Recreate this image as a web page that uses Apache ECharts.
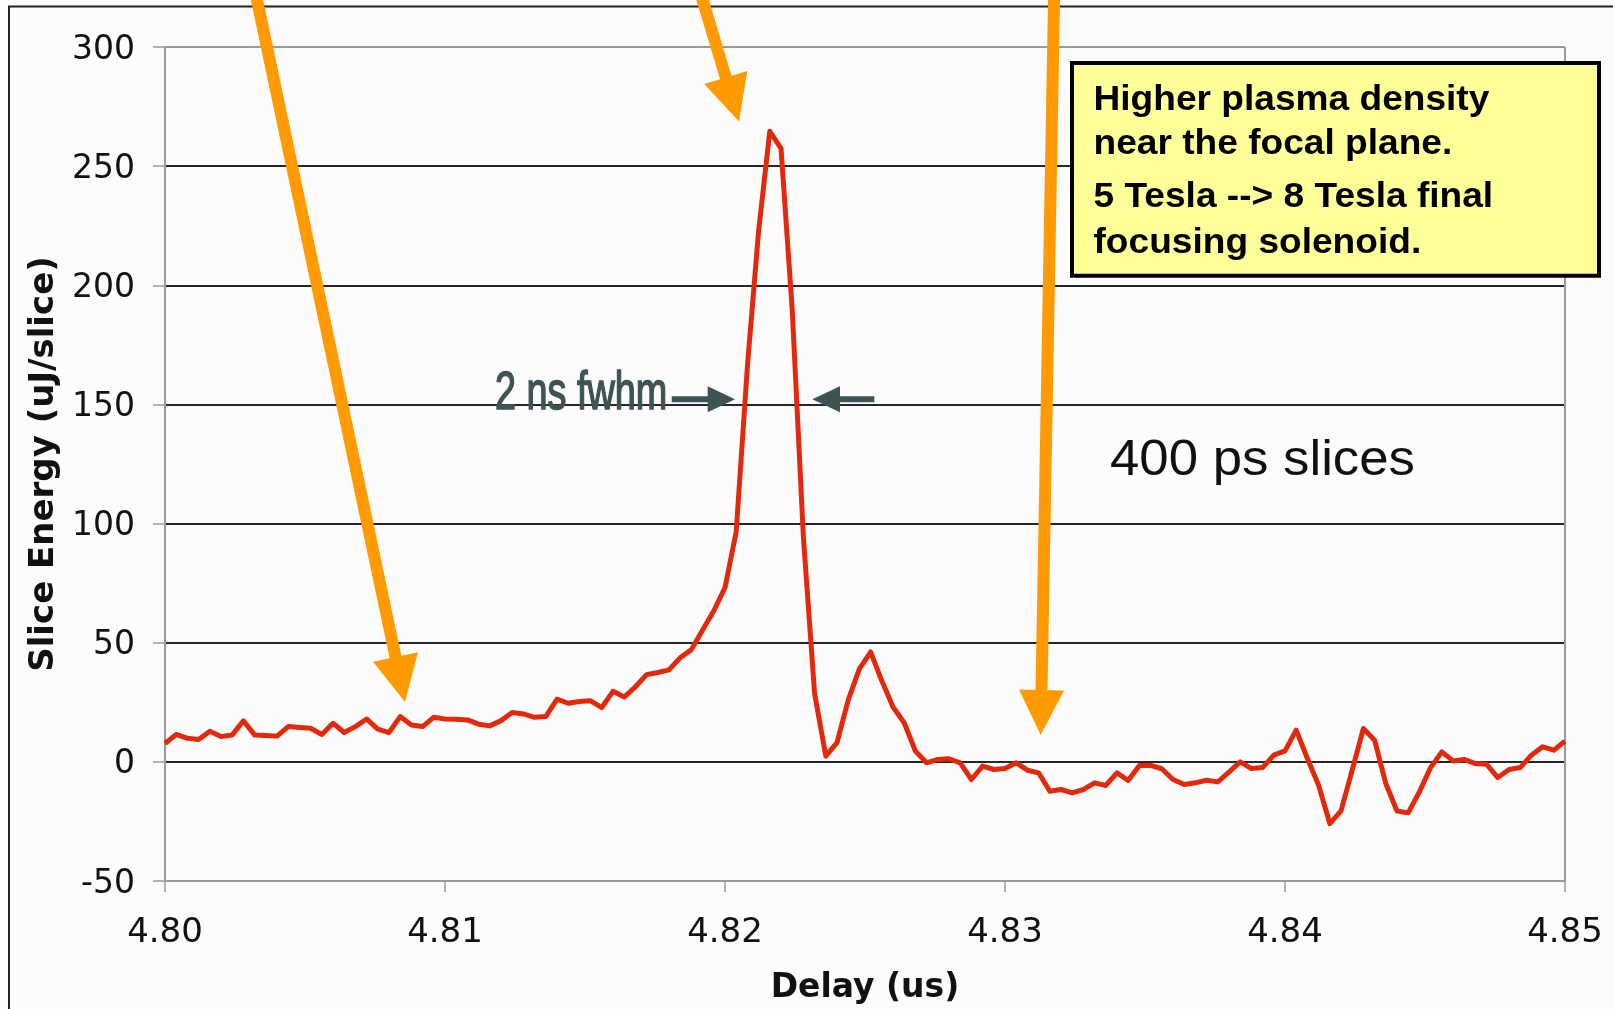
<!DOCTYPE html>
<html>
<head>
<meta charset="utf-8">
<script src="https://cdn.jsdelivr.net/npm/echarts@6/dist/echarts.min.js"></script>
<style>
html,body{margin:0;padding:0;background:#fcfcfc;}
#chart{width:1613px;height:1009px;}
</style>
</head>
<body>
<div id="chart"></div>
<script>
// ---- data ----
const sliceStartUs = 4.80;      // first slice delay (us)
const sliceWidthUs = 0.0004;    // 400 ps slices
const sliceEnergy = [
  7.7, 11.5, 9.9, 9.4, 12.8, 10.6, 11.3, 17.2, 11.3, 11.1,
  10.8, 14.8, 14.4, 14.1, 11.5, 16.2, 12.3, 14.8, 18.0, 13.7,
  12.3, 19.0, 15.5, 14.8, 18.7, 18.0, 17.9, 17.6, 15.8, 15.1,
  17.3, 20.7, 20.1, 18.7, 19.0, 26.3, 24.6, 25.3, 25.6, 22.8,
  29.6, 27.2, 31.5, 36.6, 37.5, 38.6, 43.7, 47.1, 55.3, 63.4,
  73.1, 96.6, 166, 222.8, 264.6, 257.5, 190, 94.3, 28.7, 2.4,
  8.1, 25.9, 39.0, 46.1, 34.0, 23.0, 16.4, 4.5, -0.4, 1.0,
  1.3, -0.4, -7.4, -1.8, -3.2, -2.8, -0.4, -3.5, -4.6, -12.3,
  -11.6, -13.0, -11.6, -8.8, -9.9, -4.6, -7.8, -1.5, -1.5, -2.9,
  -7.4, -9.5, -8.8, -7.7, -8.4, -4.3, 0.0, -2.8, -2.4, 2.8,
  4.6, 13.3, 1.4, -9.8, -25.9, -20.6, -3.5, 14.0, 9.1, -9.1,
  -20.6, -21.4, -12.6, -2.4, 4.2, 0.4, 1.0, -0.7, -1.0, -6.6,
  -3.2, -2.4, 2.8, 6.3, 4.9, 8.7
];
const xMin = 4.80, xMax = 4.85, xStep = 0.01;
const yMin = -50, yMax = 300, yStep = 50;
const xName = 'Delay (us)';
const yName = 'Slice Energy (uJ/slice)';
const noteLines = ['Higher plasma density', 'near the focal plane.', '5 Tesla --> 8 Tesla final', 'focusing solenoid.'];
const fwhmText = '2 ns fwhm';
const sliceText = '400 ps slices';

const delays = sliceEnergy.map((_, i) => +(sliceStartUs + i * sliceWidthUs).toFixed(4));
const seriesData = delays.map((d, i) => [d, sliceEnergy[i]]);

const chart = echarts.init(document.getElementById('chart'), null, {renderer: 'canvas'});

const ORANGE = '#FF9A00';
const SLATE = '#3E5454';
const GRAY = '#9a9a9a';
const DARK = '#262626';
const clear = 'rgba(0,0,0,0)';

function arrow(start, tip, headLen, halfW, shaftW, color) {
  const dx = tip[0] - start[0], dy = tip[1] - start[1];
  const L = Math.hypot(dx, dy), ux = dx / L, uy = dy / L;
  const bx = tip[0] - ux * headLen, by = tip[1] - uy * headLen;
  const px = -uy, py = ux;
  return [
    {type: 'line', z: 100, shape: {x1: start[0], y1: start[1], x2: bx + ux * 2, y2: by + uy * 2},
     style: {stroke: color, lineWidth: shaftW, lineCap: 'butt'}},
    {type: 'polygon', z: 101, shape: {points: [[tip[0], tip[1]], [bx + px * halfW, by + py * halfW], [bx - px * halfW, by - py * halfW]]},
     style: {fill: color}}
  ];
}

function txt(x, y, text, font, color, sx, strokeW) {
  const st = {x: 0, y: 0, text: text, font: font, fill: color,
      textAlign: 'left', align: 'left', textVerticalAlign: 'middle', verticalAlign: 'middle'};
  if (strokeW) { st.stroke = color; st.lineWidth = strokeW; }
  return {type: 'text', z: 110, x: x, y: y, scaleX: sx || 1, originX: 0, originY: 0, style: st};
}

const graphics = [].concat(
  [{type: 'rect', z: 90, shape: {x: 9, y: 6.5, width: 1800, height: 1200},
    style: {fill: null, stroke: '#222', lineWidth: 2}}],
  arrow([254.9, -10], [405, 702], 46, 23, 12, ORANGE),
  arrow([699.6, -10], [739, 121.5], 46, 22.5, 12, ORANGE),
  arrow([1054.2, -10], [1040.7, 735], 45, 22.5, 12, ORANGE),
  // fwhm arrows
  [{type: 'line', z: 100, shape: {x1: 671.7, y1: 399.3, x2: 710, y2: 399.3}, style: {stroke: SLATE, lineWidth: 6}},
   {type: 'polygon', z: 101, shape: {points: [[735, 399.3], [707.7, 386.3], [707.7, 412.3]]}, style: {fill: SLATE}},
   {type: 'line', z: 100, shape: {x1: 838, y1: 399.3, x2: 874.3, y2: 399.3}, style: {stroke: SLATE, lineWidth: 6}},
   {type: 'polygon', z: 101, shape: {points: [[812.3, 399.3], [840, 386.3], [840, 412.3]]}, style: {fill: SLATE}},
   txt(495, 394.5, fwhmText, '54px "Liberation Sans"', SLATE, 0.70, 1.6),
   txt(1110, 461.3, sliceText, '50px "Liberation Sans"', '#111', 1.055),
   {type: 'rect', z: 105, shape: {x: 1072, y: 63, width: 527, height: 212.7},
    style: {fill: '#FFFF99', stroke: '#000', lineWidth: 4}},
   txt(1093.5, 100.5, noteLines[0], 'bold 35px "Liberation Sans"', '#000', 1.06),
   txt(1093.5, 144.5, noteLines[1], 'bold 35px "Liberation Sans"', '#000', 1.06),
   txt(1093.5, 197.7, noteLines[2], 'bold 35px "Liberation Sans"', '#000', 1.06),
   txt(1093.5, 243.5, noteLines[3], 'bold 35px "Liberation Sans"', '#000', 1.06)
  ]
);

const option = {
  backgroundColor: '#fcfcfc',
  animation: false,
  grid: {left: 165, right: 48, top: 47, bottom: 128, containLabel: false, outerBoundsMode: 'none'},
  xAxis: {
    type: 'value', min: xMin, max: xMax, interval: xStep,
    name: xName, nameLocation: 'middle', nameGap: 91,
    nameTextStyle: {fontFamily: 'DejaVu Sans', fontWeight: 'bold', fontSize: 33, color: '#111'},
    axisLine: {show: true, onZero: false, lineStyle: {color: GRAY, width: 2}},
    axisTick: {show: true, length: 11, lineStyle: {color: GRAY, width: 1.5}},
    axisLabel: {margin: 35, fontFamily: 'DejaVu Sans', fontSize: 34, color: '#111',
      formatter: v => v.toFixed(2)},
    splitLine: {show: true, lineStyle: {color: [clear, clear, clear, clear, clear, GRAY], width: 2}}
  },
  yAxis: {
    type: 'value', min: yMin, max: yMax, interval: yStep,
    name: yName, nameLocation: 'middle', nameGap: 102, nameRotate: 90,
    nameTextStyle: {fontFamily: 'DejaVu Sans', fontWeight: 'bold', fontSize: 34, color: '#111'},
    axisLine: {show: true, lineStyle: {color: GRAY, width: 2}},
    axisTick: {show: true, length: 12, lineStyle: {color: GRAY, width: 1.5}},
    axisLabel: {margin: 30, fontFamily: 'DejaVu Sans', fontSize: 33, color: '#111',
      verticalAlign: 'top', lineHeight: 6},
    splitLine: {show: true, lineStyle: {color: [GRAY, DARK, DARK, DARK, DARK, DARK, DARK, GRAY], width: 1.8}}
  },
  series: [{
    type: 'line', data: seriesData, showSymbol: false, symbol: 'none', z: 3,
    lineStyle: {color: '#E3290B', width: 5, join: 'round'}
  }],
  graphic: {elements: graphics}
};
chart.setOption(option);
</script>
</body>
</html>
